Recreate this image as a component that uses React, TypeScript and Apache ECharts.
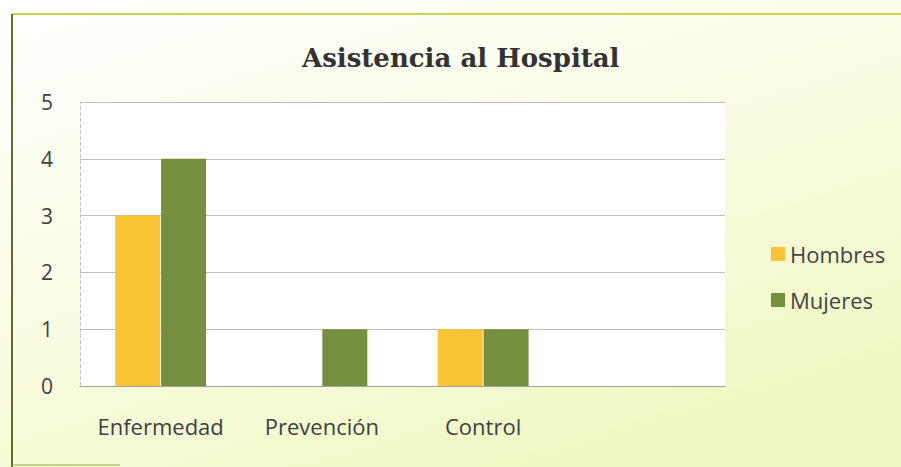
import React, { useEffect, useRef } from "react";
import * as echarts from "echarts";

const categories = ["Enfermedad", "Prevención", "Control", ""];
const hombres = [3, null, 1, null];
const mujeres = [4, 1, 1, null];
const yTicks = [0, 1, 2, 3, 4, 5];

export default function App() {
  const ref = useRef<HTMLDivElement>(null);
  useEffect(() => {
    document.body.style.margin = "0";
    const chart = echarts.init(ref.current!, null, { renderer: "svg" });
    chart.setOption({
      animation: false,
      backgroundColor: {
        type: "linear",
        x: 0,
        y: 0,
        x2: 0.6,
        y2: 1,
        colorStops: [
          { offset: 0, color: "#ffffff" },
          { offset: 0.45, color: "#fbfde8" },
          { offset: 1, color: "#eff8c4" },
        ],
      },
      title: {
        text: "Asistencia al Hospital",
        left: 297,
        top: 40,
        textStyle: {
          fontFamily: "DejaVu Serif",
          fontWeight: "bold",
          fontSize: 26,
          color: "#333333",
        },
      },
      legend: {
        orient: "vertical",
        left: 766,
        top: 238,
        itemWidth: 14,
        itemHeight: 14,
        itemGap: 24,
        icon: "rect",
        textStyle: { fontFamily: "Open Sans", fontSize: 22, color: "#444444" },
        data: ["Hombres", "Mujeres"],
      },
      grid: {
        left: 80,
        right: 176,
        top: 102,
        bottom: 81,
        show: true,
        backgroundColor: "#ffffff",
        borderWidth: 0,
      },
      xAxis: {
        type: "category",
        data: categories,
        axisTick: { show: false },
        axisLine: { lineStyle: { color: "#a0a0a0", width: 1 } },
        axisLabel: {
          interval: 0,
          hideOverlap: false,
          fontFamily: "Open Sans",
          fontSize: 22,
          color: "#404040",
          margin: 29,
        },
      },
      yAxis: {
        type: "value",
        min: 0,
        max: 5,
        interval: 1,
        axisLine: { show: true, lineStyle: { color: "#c8c8c8", type: "dashed" } },
        axisTick: { show: false },
        splitLine: { lineStyle: { color: "#bdbdbd", width: 1 } },
        axisLabel: {
          fontFamily: "Open Sans",
          fontSize: 21,
          color: "#404040",
          margin: 27,
          formatter: (v: number) => (yTicks.includes(v) ? String(v) : ""),
        },
      },
      series: [
        {
          name: "Hombres",
          type: "bar",
          data: hombres,
          barWidth: 45,
          barGap: "2%",
          itemStyle: { color: "#f9c535" },
        },
        {
          name: "Mujeres",
          type: "bar",
          data: mujeres,
          barWidth: 45,
          itemStyle: { color: "#74903f" },
        },
      ],
      graphic: [
        {
          type: "line",
          shape: { x1: 12, y1: 14, x2: 901, y2: 14 },
          style: { stroke: "#c5d64a", lineWidth: 2 },
        },
        {
          type: "line",
          shape: { x1: 12, y1: 14, x2: 12, y2: 467 },
          style: { stroke: "#5f6e2c", lineWidth: 2 },
        },
        {
          type: "line",
          shape: { x1: 12, y1: 465, x2: 120, y2: 465 },
          style: { stroke: "#9aab4a", lineWidth: 1 },
        },
      ],
    });
    return () => chart.dispose();
  }, []);
  return <div ref={ref} style={{ width: 901, height: 467 }} />;
}
